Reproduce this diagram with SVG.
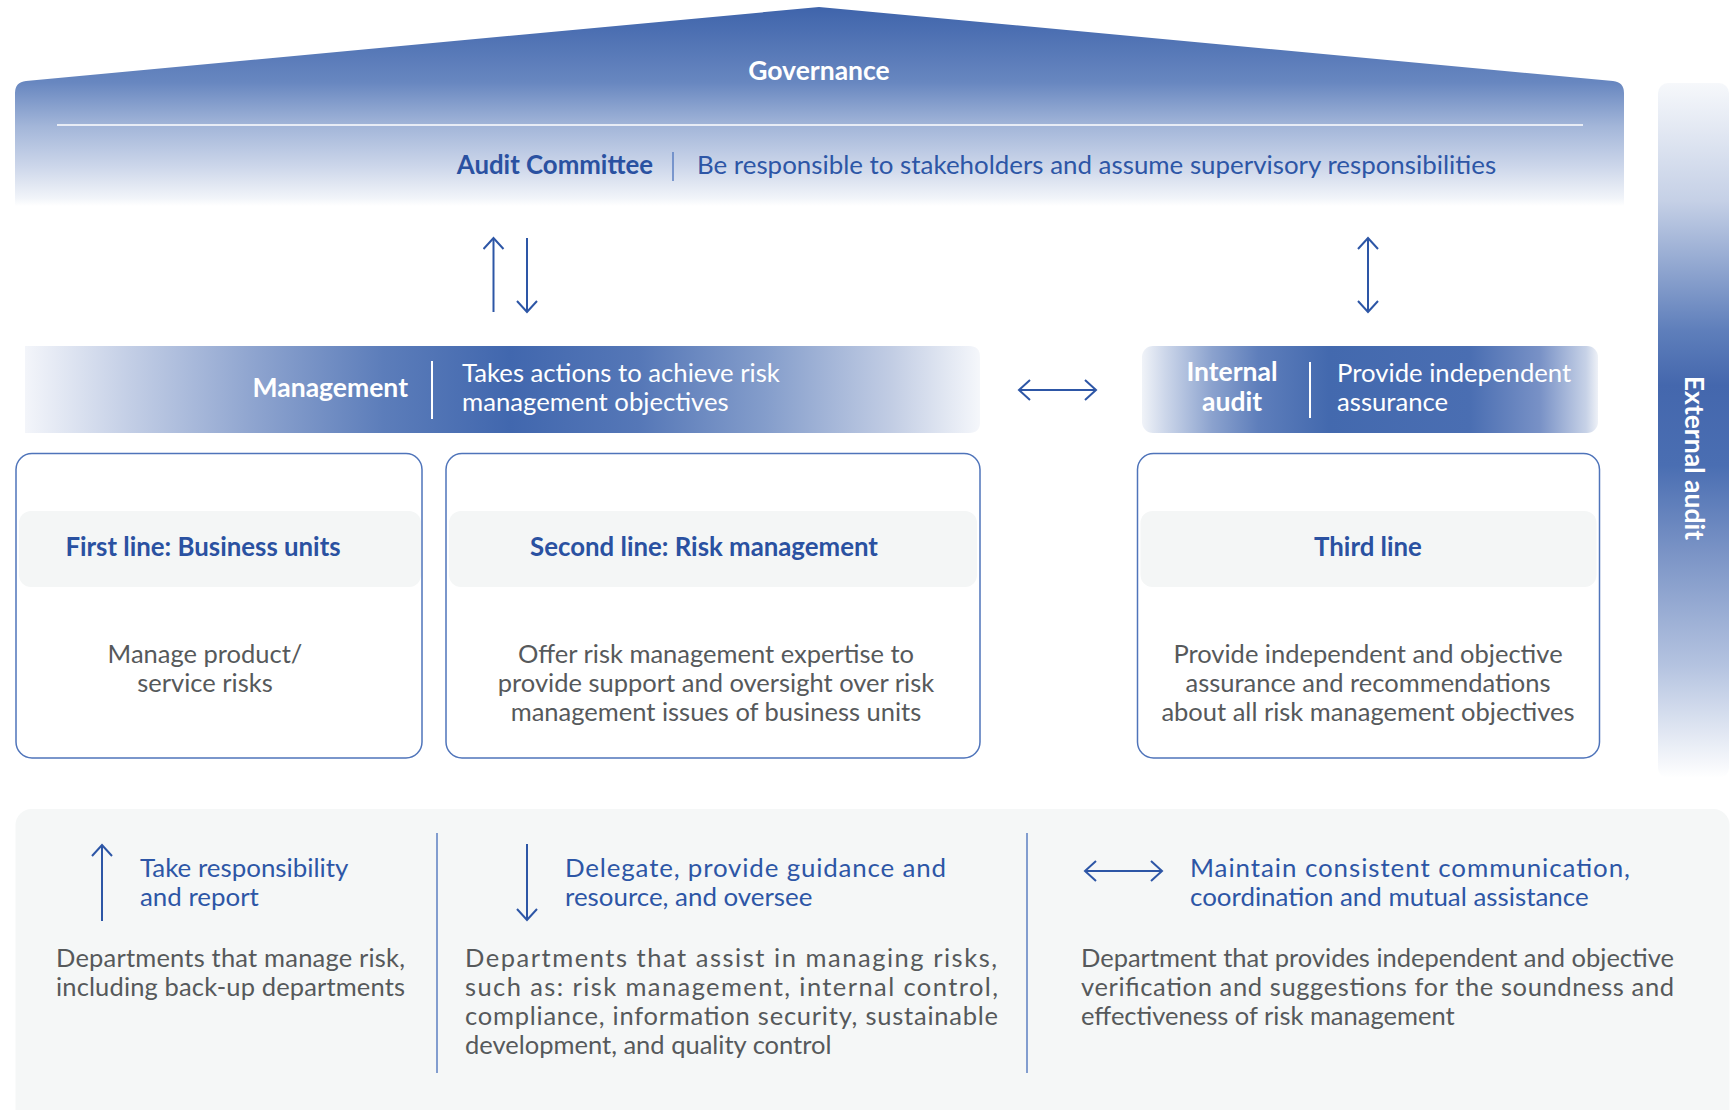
<svg xmlns="http://www.w3.org/2000/svg" width="1735" height="1110" viewBox="0 0 1735 1110">
  <defs>
    <linearGradient id="roofGrad" gradientUnits="userSpaceOnUse" x1="0" y1="7" x2="0" y2="206">
      <stop offset="0" stop-color="#3f64ab"/>
      <stop offset="0.38" stop-color="#6887c0"/>
      <stop offset="0.6" stop-color="#a3b6d9"/>
      <stop offset="0.8" stop-color="#ccd6ea"/>
      <stop offset="0.96" stop-color="#f1f4f9"/>
      <stop offset="1" stop-color="#ffffff"/>
    </linearGradient>
    <linearGradient id="mgmtGrad" gradientUnits="userSpaceOnUse" x1="25" y1="0" x2="980" y2="0">
      <stop offset="0" stop-color="#f3f5fa"/>
      <stop offset="0.107" stop-color="#c4cfe6"/>
      <stop offset="0.24" stop-color="#8ea4cf"/>
      <stop offset="0.375" stop-color="#5c7dba"/>
      <stop offset="0.508" stop-color="#4167ae"/>
      <stop offset="0.642" stop-color="#5577b7"/>
      <stop offset="0.775" stop-color="#849dcb"/>
      <stop offset="0.908" stop-color="#c2cde4"/>
      <stop offset="1" stop-color="#f5f7fb"/>
    </linearGradient>
    <linearGradient id="iaGrad" gradientUnits="userSpaceOnUse" x1="1142" y1="0" x2="1598" y2="0">
      <stop offset="0" stop-color="#f0f3f8"/>
      <stop offset="0.05" stop-color="#cdd7ea"/>
      <stop offset="0.154" stop-color="#8ba2ce"/>
      <stop offset="0.256" stop-color="#5e7ebb"/>
      <stop offset="0.41" stop-color="#4369ae"/>
      <stop offset="0.718" stop-color="#4a6eb2"/>
      <stop offset="0.872" stop-color="#7891c6"/>
      <stop offset="0.974" stop-color="#c7d2e7"/>
      <stop offset="1" stop-color="#eef1f7"/>
    </linearGradient>
    <linearGradient id="extGrad" gradientUnits="userSpaceOnUse" x1="0" y1="83" x2="0" y2="778">
      <stop offset="0" stop-color="#f6f8fb"/>
      <stop offset="0.17" stop-color="#c5d0e6"/>
      <stop offset="0.355" stop-color="#5f7fbb"/>
      <stop offset="0.435" stop-color="#4467ad"/>
      <stop offset="0.55" stop-color="#4a6eb2"/>
      <stop offset="0.677" stop-color="#7b94c6"/>
      <stop offset="0.838" stop-color="#b4c3e0"/>
      <stop offset="1" stop-color="#ffffff"/>
    </linearGradient>
    <marker id="chev" viewBox="-12 -11 14 22" refX="0" refY="0" markerWidth="14" markerHeight="22" markerUnits="userSpaceOnUse" orient="auto-start-reverse">
      <path d="M-11,-10 L0,0 L-11,10" fill="none" stroke="#2d56a6" stroke-width="2"/>
    </marker>
    <style>
      text { font-family: Lato, "Liberation Sans", sans-serif; }
      .white-b { fill: #ffffff; font-weight: 700; font-size: 26.5px; }
      .white-r { fill: #ffffff; font-size: 25.7px; }
      .blue-b { fill: #2a51a1; font-weight: 700; font-size: 25.8px; }
      .blue-r { fill: #2d56a6; font-size: 25.9px; }
      .gray { fill: #56595b; font-size: 25.5px; }
      .box { fill: #ffffff; stroke: #4f74ba; stroke-width: 1.5; }
      .band { fill: #f4f6f6; }
      .conn { fill: none; stroke: #2d56a6; stroke-width: 2; }
      .divider { stroke: #5b7fc2; stroke-width: 1.5; }
      .sep { stroke: #ffffff; stroke-width: 2; }
    </style>
  </defs>

  <!-- Governance roof -->
  <g id="governance">
    <path d="M15,93 Q15,82 26,81 L819,7 L1613,81 Q1624,82 1624,93 L1624,206 L15,206 Z" fill="url(#roofGrad)"/>
    <text x="819" y="80" text-anchor="middle" class="white-b">Governance</text>
    <line x1="57" y1="125" x2="1583" y2="125" stroke="#ffffff" stroke-width="1.5"/>
    <text x="653" y="174" text-anchor="end" class="blue-b">Audit Committee</text>
    <line x1="673" y1="152" x2="673" y2="181" stroke="#5b7fc2" stroke-width="1.5"/>
    <text x="697" y="174" class="blue-r">Be responsible to stakeholders and assume supervisory responsibilities</text>
  </g>

  <!-- External audit side bar -->
  <g id="external-audit">
    <rect x="1658" y="83" width="71" height="695" rx="10" fill="url(#extGrad)"/>
    <text transform="translate(1685,458) rotate(90)" text-anchor="middle" class="white-b">External audit</text>
  </g>

  <!-- Management bar -->
  <g id="management">
    <path d="M25,346 L969,346 Q980,346 980,357 L980,422 Q980,433 969,433 L25,433 Z" fill="url(#mgmtGrad)"/>
    <text x="408" y="397" text-anchor="end" class="white-b">Management</text>
    <line x1="432" y1="361" x2="432" y2="419" class="sep"/>
    <text x="462" y="382" class="white-r">Takes actions to achieve risk</text>
    <text x="462" y="411" class="white-r">management objectives</text>
  </g>

  <!-- Internal audit bar -->
  <g id="internal-audit">
    <rect x="1142" y="346" width="456" height="87" rx="11" fill="url(#iaGrad)"/>
    <text x="1232" y="381" text-anchor="middle" class="white-b">Internal</text>
    <text x="1232" y="411" text-anchor="middle" class="white-b">audit</text>
    <line x1="1310" y1="362" x2="1310" y2="418" class="sep"/>
    <text x="1337" y="382" class="white-r">Provide independent</text>
    <text x="1337" y="411" class="white-r">assurance</text>
  </g>

  <!-- First line -->
  <g id="first-line">
    <rect x="16" y="453.5" width="406" height="304.5" rx="16" class="box"/>
    <rect x="19" y="511" width="402" height="76" rx="12" class="band"/>
    <text x="203" y="556" text-anchor="middle" class="blue-b">First line: Business units</text>
    <text x="205" y="663" text-anchor="middle" class="gray">Manage product/</text>
    <text x="205" y="692" text-anchor="middle" class="gray">service risks</text>
  </g>

  <!-- Second line -->
  <g id="second-line">
    <rect x="446" y="453.5" width="534" height="304.5" rx="16" class="box"/>
    <rect x="449" y="511" width="528" height="76" rx="12" class="band"/>
    <text x="704" y="556" text-anchor="middle" class="blue-b">Second line: Risk management</text>
    <text x="716" y="663" text-anchor="middle" class="gray">Offer risk management expertise to</text>
    <text x="716" y="692" text-anchor="middle" class="gray">provide support and oversight over risk</text>
    <text x="716" y="721" text-anchor="middle" class="gray">management issues of business units</text>
  </g>

  <!-- Third line -->
  <g id="third-line">
    <rect x="1137.5" y="453.5" width="462" height="304.5" rx="16" class="box"/>
    <rect x="1140.5" y="511" width="456" height="76" rx="12" class="band"/>
    <text x="1368" y="556" text-anchor="middle" class="blue-b">Third line</text>
    <text x="1368" y="663" text-anchor="middle" class="gray">Provide independent and objective</text>
    <text x="1368" y="692" text-anchor="middle" class="gray">assurance and recommendations</text>
    <text x="1368" y="721" text-anchor="middle" class="gray">about all risk management objectives</text>
  </g>

  <!-- Legend panel -->
  <g id="legend">
    <rect x="15.5" y="809" width="1714" height="330" rx="16" fill="#f5f7f7"/>
    <line x1="437" y1="833" x2="437" y2="1073" class="divider"/>
    <line x1="1027" y1="833" x2="1027" y2="1073" class="divider"/>

    <line x1="102" y1="921" x2="102" y2="845" class="conn" marker-end="url(#chev)"/>
    <text x="140" y="877" class="blue-r">Take responsibility</text>
    <text x="140" y="906" class="blue-r">and report</text>
    <text x="56" y="967" class="gray" textLength="349" lengthAdjust="spacing">Departments that manage risk,</text>
    <text x="56" y="996" class="gray" textLength="349" lengthAdjust="spacing">including back-up departments</text>

    <line x1="527" y1="844" x2="527" y2="920" class="conn" marker-end="url(#chev)"/>
    <text x="565" y="877" class="blue-r" textLength="381" lengthAdjust="spacing">Delegate, provide guidance and</text>
    <text x="565" y="906" class="blue-r">resource, and oversee</text>
    <text x="465" y="967" class="gray" textLength="532" lengthAdjust="spacing">Departments that assist in managing risks,</text>
    <text x="465" y="996" class="gray" textLength="533" lengthAdjust="spacing">such as: risk management, internal control,</text>
    <text x="465" y="1025" class="gray" textLength="533" lengthAdjust="spacing">compliance, information security, sustainable</text>
    <text x="465" y="1054" class="gray">development, and quality control</text>

    <line x1="1085" y1="871" x2="1162" y2="871" class="conn" marker-start="url(#chev)" marker-end="url(#chev)"/>
    <text x="1190" y="877" class="blue-r" textLength="440" lengthAdjust="spacing">Maintain consistent communication,</text>
    <text x="1190" y="906" class="blue-r">coordination and mutual assistance</text>
    <text x="1081" y="967" class="gray" textLength="593" lengthAdjust="spacing">Department that provides independent and objective</text>
    <text x="1081" y="996" class="gray" textLength="593" lengthAdjust="spacing">verification and suggestions for the soundness and</text>
    <text x="1081" y="1025" class="gray">effectiveness of risk management</text>
  </g>

  <!-- Connectors between tiers -->
  <g id="connectors">
    <line x1="493.5" y1="312" x2="493.5" y2="238" class="conn" marker-end="url(#chev)"/>
    <line x1="527" y1="238" x2="527" y2="312" class="conn" marker-end="url(#chev)"/>
    <line x1="1368" y1="238" x2="1368" y2="312" class="conn" marker-start="url(#chev)" marker-end="url(#chev)"/>
    <line x1="1019" y1="390" x2="1096" y2="390" class="conn" marker-start="url(#chev)" marker-end="url(#chev)"/>
  </g>
</svg>
